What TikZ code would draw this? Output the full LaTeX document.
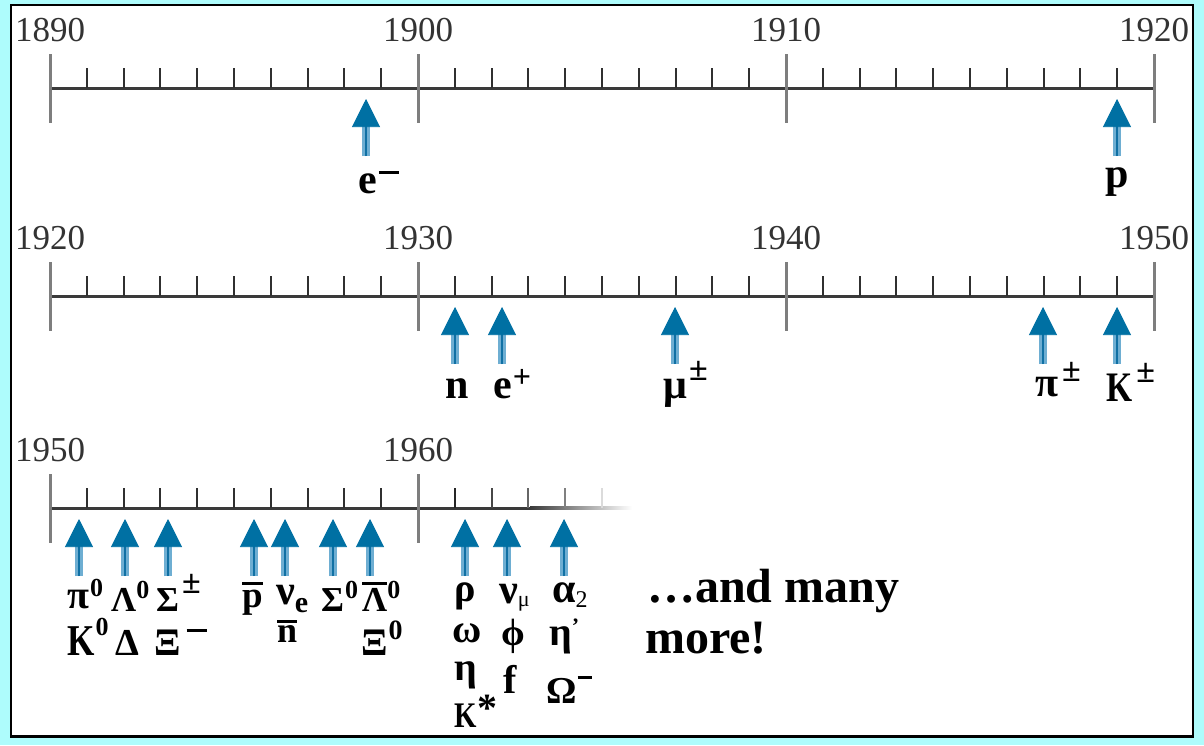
\documentclass[tikz,border=0pt]{standalone}
\usepackage{fontspec}
\usepackage{graphicx}
\setmainfont{Liberation Serif}
\usetikzlibrary{arrows.meta}
\definecolor{bgcyan}{HTML}{AEFCFC}
\definecolor{colHead}{RGB}{0,112,163}
\definecolor{colShaftL}{RGB}{110,174,210}
\definecolor{colShaftD}{RGB}{16,112,164}
\definecolor{axisgray}{HTML}{3A3A3A}
\definecolor{majgray}{HTML}{7E7E7E}
\definecolor{mingray}{HTML}{303030}
\newcommand\fs[1]{\fontsize{#1}{#1}\selectfont}
\newcommand\kn{\scalebox{0.8}[1]{K}}
\newcommand\ovb[2]{\setbox0=\hbox{#2}\rlap{\raisebox{#1}{\rule{\wd0}{3pt}}}\box0}
\newcommand\partarrow[3]{%
  \coordinate (#1t) at ({#2},{#3+11});
  \coordinate (#1h) at ({#2},{#3+38});
  \coordinate (#1b) at ({#2},{#3+68});
  \draw[shaftl] (#1b) -- (#1h);
  \draw[shaftd] (#1b) -- (#1h);
  \draw[headst] (#1h) -- (#1t);
}
\begin{document}
\begin{tikzpicture}[x=1pt,y=-1pt,
  axisline/.style={line width=3pt, draw=axisgray},
  majtick/.style={line width=3pt, draw=majgray},
  mintick/.style={line width=2pt, draw=mingray},
  yearlbl/.style={anchor=base, inner sep=0pt, text=black!80, font={\fs{35}}},
  plbl/.style={anchor=base west, inner sep=0pt, font=\bfseries},
  shaftl/.style={line width=7.5pt, draw=colShaftL},
  shaftd/.style={line width=2.6pt, draw=colShaftD},
  headst/.style={line width=0.6pt, draw=colHead, fill=colHead, -{Triangle[width=28pt,length=28pt]}}
]
\useasboundingbox (0,0) rectangle (1204,745);
\fill[bgcyan] (0,0) rectangle (1204,745);
\draw[fill=white, line width=2.2pt] (11,5) rectangle (1193,736.5);

% ---------- timeline 1 and 2 ----------
\foreach \ly in {88,296}{
  \draw[axisline] (50,\ly) -- (1154,\ly);
  \foreach \k in {1,2,3,4,5,6,7,8,9,11,12,13,14,15,16,17,18,19,21,22,23,24,25,26,27,28,29}
    \draw[mintick] ({50+36.8*\k},{\ly-20}) -- ({50+36.8*\k},\ly);
  \foreach \k in {0,10,20,30}
    \draw[majtick] ({50+36.8*\k},{\ly-34}) -- ({50+36.8*\k},{\ly+35});
}
\node[yearlbl] (y1890) at (50,41) {1890};
\node[yearlbl] (y1900) at (418,41) {1900};
\node[yearlbl] (y1910) at (786,41) {1910};
\node[yearlbl] (y1920a) at (1154,41) {1920};
\node[yearlbl] (y1920b) at (50,249) {1920};
\node[yearlbl] (y1930) at (418,249) {1930};
\node[yearlbl] (y1940) at (786,249) {1940};
\node[yearlbl] (y1950a) at (1154,249) {1950};

% ---------- timeline 3 ----------
\draw[axisline] (50,508) -- (530,508);
\shade[left color=axisgray, right color=white] (530,506.5) rectangle (632,509.5);
\foreach \k in {1,...,9}
  \draw[mintick] ({50+36.8*\k},488) -- ({50+36.8*\k},508);
\foreach \k/\c in {11/85,12/72,13/60,14/50,15/14}
  \draw[line width=2pt, draw=black!\c] ({50+36.8*\k},488) -- ({50+36.8*\k},508);
\foreach \k in {0,10}
  \draw[majtick] ({50+36.8*\k},474) -- ({50+36.8*\k},543);
\node[yearlbl] (y1950b) at (50,461) {1950};
\node[yearlbl] (y1960) at (418,461) {1960};

% ---------- arrows ----------
\partarrow{ae}{366}{88}
\partarrow{ap}{1117}{88}
\partarrow{an}{455}{296}
\partarrow{aep}{502}{296}
\partarrow{amu}{675}{296}
\partarrow{api}{1043}{296}
\partarrow{aK}{1117}{296}
\partarrow{b1}{79}{508}
\partarrow{b2}{125}{508}
\partarrow{b3}{168}{508}
\partarrow{b4}{254}{508}
\partarrow{b5}{285}{508}
\partarrow{b6}{333}{508}
\partarrow{b7}{370}{508}
\partarrow{c1}{465}{508}
\partarrow{c2}{507}{508}
\partarrow{c3}{564}{508}

% ---------- labels timeline 1 ----------
\node[plbl] (le) at (358,193) {\fs{42}e\hspace{2pt}\raisebox{19pt}{\rule{20pt}{2.8pt}}};
\node[plbl] (lp) at (1105,187) {\fs{42}p};

% ---------- labels timeline 2 ----------
\node[plbl] (ln) at (445,398) {\fs{42}n};
\node[plbl] (lep) at (493,398) {\fs{42}e\hspace{1pt}\raisebox{11pt}{\fs{32}+}};
\node[plbl] (lmu) at (663,398) {\fs{42}μ\hspace{2pt}\raisebox{18pt}{\fs{34}±}};
\node[plbl] (lpi) at (1035,396) {\fs{42}π\hspace{4pt}\raisebox{15pt}{\fs{34}±}};
\node[plbl] (lK) at (1106,401) {\fs{42}\kn\hspace{4pt}\raisebox{19pt}{\fs{34}±}};

% ---------- labels timeline 3 ----------
\node[plbl] (lpi0) at (67,608) {\fs{40}π\hspace{1pt}\raisebox{12pt}{\fs{26}0}};
\node[plbl] (lLam0) at (111,611) {\fs{35}Λ\raisebox{13pt}{\fs{26}0}};
\node[plbl] (lSig) at (156,611) {\fs{35}Σ\hspace{3pt}\raisebox{18pt}{\fs{34}±}};
\node[plbl] (lpbar) at (242,607) {\fs{37}\ovb{22pt}{p}};
\node[plbl] (lnue) at (276,604) {\fs{42}ν\raisebox{-8pt}{\fs{30}e}};
\node[plbl] (lSig0) at (321,611) {\fs{35}Σ\hspace{1pt}\raisebox{13pt}{\fs{26}0}};
\node[plbl] (lLamb) at (362,611) {\fs{35}\ovb{26pt}{Λ}\raisebox{13pt}{\fs{26}0}};
\node[plbl] (lK0) at (67,655) {\fs{44}\kn\hspace{1pt}\raisebox{20pt}{\fs{26}0}};
\node[plbl] (lDel) at (115,655) {\fs{38}Δ};
\node[plbl] (lXim) at (154,655) {\fs{39}Ξ\hspace{6pt}\raisebox{23pt}{\rule{20pt}{2.8pt}}};
\node[plbl] (lnbar) at (277,642) {\fs{36}\ovb{19pt}{n}};
\node[plbl] (lXi0) at (361,655) {\fs{39}Ξ\hspace{1pt}\raisebox{16pt}{\fs{28}0}};

\node[plbl] (lrho) at (454,601) {\fs{40}ρ};
\node[plbl] (lnumu) at (499,603) {\fs{42}ν\raisebox{-3pt}{\fs{22}\mdseries μ}};
\node[plbl] (lalpha) at (552,602) {\fs{42}α\raisebox{-5pt}{\fs{24}\mdseries 2}};
\node[plbl] (lomega) at (452,642) {\fs{40}ω};
\node[plbl] (lphi) at (501,645) {\fs{38}ϕ};
\node[plbl] (letap) at (549,645) {\fs{40}η\raisebox{12pt}{\fs{22}'}};
\node[plbl] (leta) at (454,680) {\fs{40}η};
\node[plbl] (lf) at (503,693) {\fs{40}f};
\node[plbl] (lOm) at (546,703) {\fs{38}Ω\hspace{1pt}\raisebox{24pt}{\rule{14pt}{2.8pt}}};
\node[plbl] (lKs) at (454,727) {\fs{36}\kn\hspace{1pt}\raisebox{6pt}{\fs{40}*}};

\node[plbl] (more1) at (647,602) {\fs{48}…and many};
\node[plbl] (more2) at (645,653) {\fs{48}more!};
\end{tikzpicture}
\end{document}
